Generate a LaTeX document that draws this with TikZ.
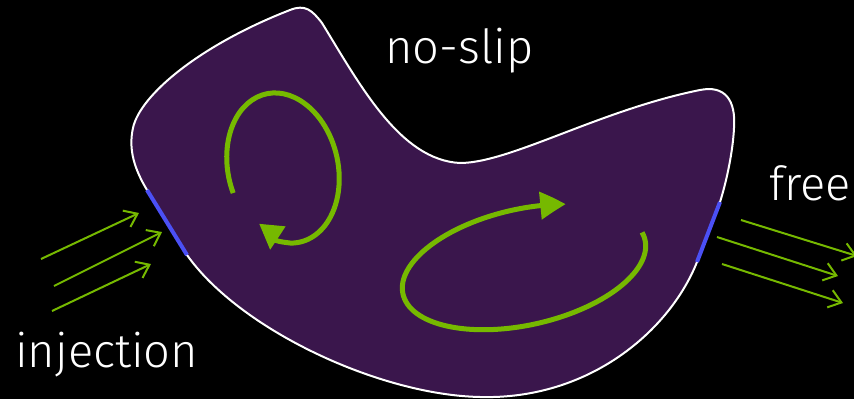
\documentclass[tikz,border=0pt]{standalone}
\usepackage{fontspec}
\setmainfont{Fira Sans Light}
\usetikzlibrary{arrows.meta,bending}
\definecolor{colBlob}{HTML}{3A164C}
\definecolor{colGreen}{HTML}{76B900}
\definecolor{colWall}{HTML}{4B50F5}
\def\lblfont{\fontsize{47pt}{54pt}\selectfont}

\begin{document}
\begin{tikzpicture}[x=1pt, y=1pt,
  flow/.style={colGreen, line width=2pt, -{Straight Barb[length=12pt, width=18pt]}},
  vortex/.style={colGreen, line width=5pt},
  port/.style={colWall, line width=4pt},
  lbl/.style={anchor=base west, inner sep=0pt, text=white, font=\lblfont}]
\useasboundingbox (0,0) rectangle (854,-399);
\fill[black] (0,0) rectangle (854,-399);

% ===================== domain =====================
\draw[white, line width=2pt, fill=colBlob]
  (147,-190) .. controls (135,-170) and (128,-150) .. (133,-128)
  .. controls (140,-95) and (200,-45) .. (290,-10)
  .. controls (305,-4) and (312,-10) .. (322,-23)
  .. controls (360,-85) and (400,-160) .. (460,-163)
  .. controls (510,-163) and (600,-110) .. (700,-90)
  .. controls (725,-85) and (736,-100) .. (734,-128)
  .. controls (733,-150) and (727,-180) .. (720,-202)
  -- (697,-262)
  .. controls (670,-330) and (590,-400) .. (480,-397)
  .. controls (380,-395) and (240,-330) .. (187,-255)
  -- cycle;

% inflow and outflow walls
\draw[port] (147,-190) -- (187,-255);
\draw[port] (720,-202) -- (697,-262);

% ===================== vortices =====================
\begin{scope}[shift={(283,-168)}, rotate=13]
  \draw[vortex, -{Triangle[length=25pt, width=25pt, quick]}]
    (190:55 and 76) arc[start angle=190, end angle=-100, x radius=55, y radius=76]
    .. controls (-28,-68) .. (-31,-77);
\end{scope}
\begin{scope}[shift={(524,-267)}, rotate=12.6]
  \draw[vortex, -{Triangle[length=25pt, width=27pt, bend]}]
    (8:124 and 58) arc[start angle=8, end angle=-296, x radius=124, y radius=58];
\end{scope}

% ===================== in / out arrows =====================
\draw[flow] (41,-259) -- (139,-213);
\draw[flow] (54,-286) -- (162,-232);
\draw[flow] (52,-311) -- (151,-264);

\draw[flow] (741,-220) -- (857,-256);
\draw[flow] (717,-237) -- (838,-276);
\draw[flow] (722,-264) -- (843,-303);

% ===================== labels =====================
\node[lbl] (noslip) at (385,-63) {no-slip};
\node[lbl] (inject) at (15,-367) {injection};
\node[lbl] (free) at (769,-200) {free};
\end{tikzpicture}
\end{document}
